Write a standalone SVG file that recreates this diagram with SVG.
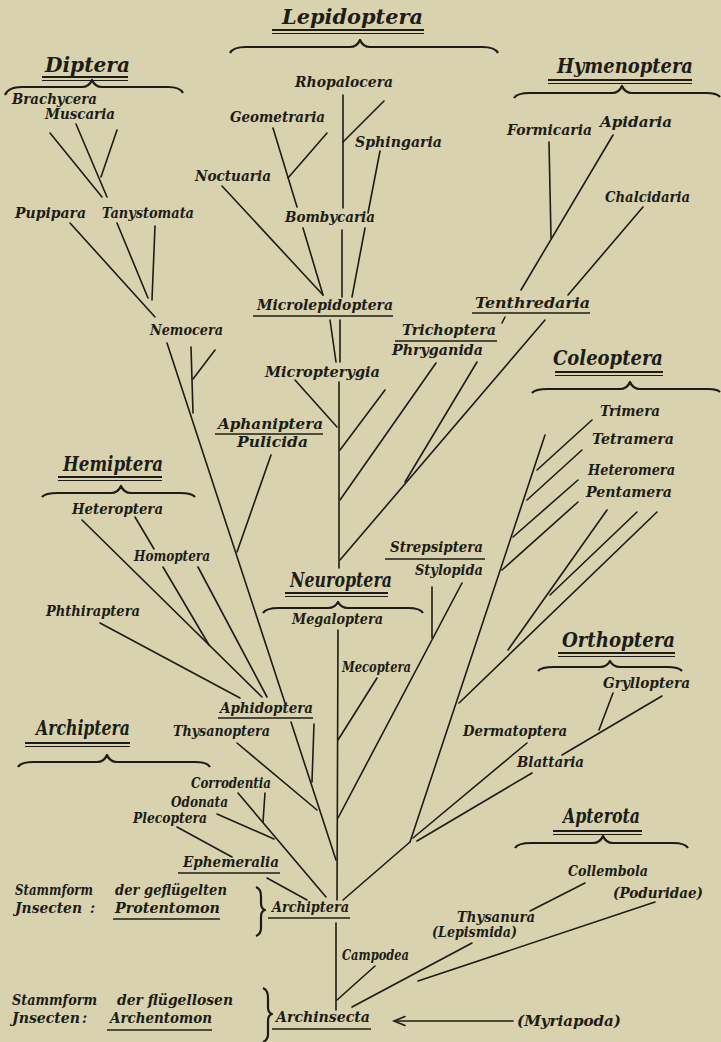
<svg xmlns="http://www.w3.org/2000/svg" width="721" height="1042" viewBox="0 0 721 1042">
<style>
.t{font-family:"DejaVu Serif","Liberation Serif",serif;font-style:italic;font-weight:bold;font-size:14px;fill:#1d1c17}
.h{font-size:21px}
.s{font-weight:bold;font-size:14px}
.ln{stroke:#1d1c17;stroke-width:1.6;fill:none;stroke-linecap:round}
.ul{stroke:#1d1c17;stroke-width:1.3;fill:none}
.du{stroke:#1d1c17;fill:none}
.br{stroke:#1d1c17;stroke-width:2.2;fill:none;stroke-linejoin:round}
</style>
<rect width="721" height="1042" fill="#d8d3ae"/>

<g id="connectors">
<!-- Diptera -->
<line class="ln" x1="50" y1="133" x2="102" y2="197"/>
<line class="ln" x1="76" y1="124" x2="107" y2="197"/>
<line class="ln" x1="117" y1="130" x2="101" y2="177"/>
<line class="ln" x1="70" y1="223" x2="155" y2="317"/>
<line class="ln" x1="117" y1="223" x2="148" y2="298"/>
<line class="ln" x1="155" y1="226" x2="152" y2="300"/>
<!-- Nemocera -->
<line class="ln" x1="167" y1="343" x2="285" y2="703"/>
<line class="ln" x1="191" y1="347" x2="193" y2="413"/>
<line class="ln" x1="193" y1="379" x2="215" y2="350"/>
<!-- Aphaniptera -->
<line class="ln" x1="271" y1="455" x2="237" y2="552"/>
<!-- Hemiptera -->
<line class="ln" x1="82" y1="520" x2="262" y2="697"/>
<line class="ln" x1="135" y1="517" x2="154" y2="549"/>
<line class="ln" x1="163" y1="567" x2="209" y2="645"/>
<line class="ln" x1="198" y1="567" x2="267" y2="697"/>
<line class="ln" x1="100" y1="623" x2="240" y2="698"/>
<!-- Lepidoptera -->
<line class="ln" x1="343" y1="95" x2="343" y2="208"/>
<line class="ln" x1="384" y1="101" x2="343" y2="142"/>
<line class="ln" x1="273" y1="128" x2="297" y2="207"/>
<line class="ln" x1="327" y1="133" x2="288" y2="178"/>
<line class="ln" x1="380" y1="151" x2="368" y2="213"/>
<line class="ln" x1="222" y1="186" x2="323" y2="295"/>
<line class="ln" x1="303" y1="228" x2="323" y2="295"/>
<line class="ln" x1="342" y1="230" x2="342" y2="297"/>
<line class="ln" x1="365" y1="228" x2="352" y2="297"/>
<line class="ln" x1="330" y1="320" x2="336" y2="362"/>
<line class="ln" x1="340" y1="320" x2="340" y2="362"/>
<!-- Neuroptera upper trunk -->
<line class="ln" x1="339" y1="382" x2="339" y2="568"/>
<line class="ln" x1="295" y1="380" x2="337" y2="427"/>
<line class="ln" x1="385" y1="390" x2="340" y2="450"/>
<line class="ln" x1="436" y1="363" x2="340" y2="500"/>
<line class="ln" x1="477" y1="362" x2="405" y2="482"/>
<line class="ln" x1="545" y1="320" x2="340" y2="560"/>
<!-- Hymenoptera -->
<line class="ln" x1="549" y1="142" x2="551" y2="238"/>
<line class="ln" x1="613" y1="135" x2="521" y2="290"/>
<line class="ln" x1="643" y1="207" x2="568" y2="295"/>
<line class="ln" x1="505" y1="317" x2="502" y2="323"/>
<!-- Coleoptera -->
<line class="ln" x1="545" y1="435" x2="410" y2="842"/>
<line class="ln" x1="592" y1="420" x2="537" y2="470"/>
<line class="ln" x1="582" y1="450" x2="527" y2="500"/>
<line class="ln" x1="578" y1="480" x2="513" y2="537"/>
<line class="ln" x1="578" y1="502" x2="502" y2="570"/>
<line class="ln" x1="607" y1="510" x2="508" y2="650"/>
<line class="ln" x1="637" y1="512" x2="550" y2="595"/>
<line class="ln" x1="657" y1="512" x2="459" y2="703"/>
<!-- Strepsiptera -->
<line class="ln" x1="432" y1="587" x2="432" y2="638"/>
<line class="ln" x1="462" y1="583" x2="338" y2="818"/>
<!-- Neuroptera lower -->
<line class="ln" x1="338" y1="630" x2="337" y2="900"/>
<line class="ln" x1="377" y1="678" x2="338" y2="740"/>
<!-- Orthoptera -->
<line class="ln" x1="613" y1="693" x2="599" y2="730"/>
<line class="ln" x1="662" y1="696" x2="562" y2="755"/>
<line class="ln" x1="527" y1="743" x2="413" y2="838"/>
<line class="ln" x1="532" y1="773" x2="417" y2="841"/>
<line class="ln" x1="410" y1="842" x2="343" y2="900"/>
<!-- Archiptera group -->
<line class="ln" x1="291" y1="722" x2="336" y2="860"/>
<line class="ln" x1="314" y1="724" x2="312" y2="782"/>
<line class="ln" x1="237" y1="743" x2="317" y2="810"/>
<line class="ln" x1="238" y1="793" x2="326" y2="897"/>
<line class="ln" x1="265" y1="793" x2="263" y2="822"/>
<line class="ln" x1="217" y1="814" x2="274" y2="839"/>
<line class="ln" x1="177" y1="827" x2="232" y2="857"/>
<line class="ln" x1="267" y1="878" x2="307" y2="900"/>
<!-- Apterota -->
<line class="ln" x1="336" y1="923" x2="336" y2="1010"/>
<line class="ln" x1="375" y1="966" x2="337" y2="1000"/>
<line class="ln" x1="472" y1="943" x2="352" y2="1007"/>
<line class="ln" x1="585" y1="883" x2="530" y2="911"/>
<line class="ln" x1="655" y1="902" x2="418" y2="981"/>
<!-- Myriapoda arrow -->
<line class="ln" x1="513" y1="1021" x2="396" y2="1021"/>
<polyline class="ln" points="405,1016.5 394,1021 405,1025.5"/>
</g>

<!-- Group titles -->
<g id="g-lepidoptera">
<text class="t h" x="282" y="24" textLength="141" lengthAdjust="spacingAndGlyphs">Lepidoptera</text>
<line class="du" x1="272" y1="30" x2="424" y2="30" stroke-width="2"/>
<line class="du" x1="272" y1="33.5" x2="424" y2="33.5" stroke-width="1"/>
<path class="br" d="M230,53 Q233,47 246,47 L350,47 Q357,47 360,40 Q363,47 370,47 L482,47 Q495,47 498,53"/>
</g>
<g id="g-diptera">
<text class="t h" x="45" y="72" textLength="85" lengthAdjust="spacingAndGlyphs">Diptera</text>
<line class="du" x1="42" y1="77" x2="128" y2="77" stroke-width="2"/>
<line class="du" x1="42" y1="80.5" x2="128" y2="80.5" stroke-width="1"/>
<path class="br" d="M5,95 Q8,87 22,87 L82,87 Q89,87 92,80 Q95,87 102,87 L168,87 Q180,87 183,93"/>
</g>
<g id="g-hymenoptera">
<text class="t h" x="557" y="73" textLength="136" lengthAdjust="spacingAndGlyphs">Hymenoptera</text>
<line class="du" x1="548" y1="80" x2="692" y2="80" stroke-width="2"/>
<line class="du" x1="548" y1="83.5" x2="692" y2="83.5" stroke-width="1"/>
<path class="br" d="M514,98 Q517,93 530,93 L612,93 Q619,93 622,86 Q625,93 632,93 L706,93 Q717,93 720,97"/>
</g>
<g id="g-coleoptera">
<text class="t h" x="553" y="365" textLength="110" lengthAdjust="spacingAndGlyphs">Coleoptera</text>
<line class="du" x1="555" y1="372" x2="663" y2="372" stroke-width="2"/>
<line class="du" x1="555" y1="375.5" x2="663" y2="375.5" stroke-width="1"/>
<path class="br" d="M532,393 Q535,389 548,389 L620,389 Q627,389 630,382 Q633,389 640,389 L708,389 Q717,389 720,392"/>
</g>
<g id="g-hemiptera">
<text class="t h" x="63" y="471" textLength="100" lengthAdjust="spacingAndGlyphs">Hemiptera</text>
<line class="du" x1="58" y1="477" x2="162" y2="477" stroke-width="2"/>
<line class="du" x1="58" y1="480.5" x2="162" y2="480.5" stroke-width="1"/>
<path class="br" d="M42,497 Q45,493 58,493 L111,493 Q118,493 121,486 Q124,493 131,493 L180,493 Q192,493 195,497"/>
</g>
<g id="g-neuroptera">
<text class="t h" x="290" y="587" textLength="102" lengthAdjust="spacingAndGlyphs">Neuroptera</text>
<line class="du" x1="285" y1="593" x2="388" y2="593" stroke-width="2"/>
<line class="du" x1="285" y1="596.5" x2="388" y2="596.5" stroke-width="1"/>
<path class="br" d="M263,613 Q266,608 279,608 L328,608 Q335,608 338,602 Q341,608 348,608 L408,608 Q420,608 423,613"/>
</g>
<g id="g-orthoptera">
<text class="t h" x="562" y="647" textLength="113" lengthAdjust="spacingAndGlyphs">Orthoptera</text>
<line class="du" x1="558" y1="653" x2="675" y2="653" stroke-width="2"/>
<line class="du" x1="558" y1="656.5" x2="675" y2="656.5" stroke-width="1"/>
<path class="br" d="M538,671 Q541,667 554,667 L600,667 Q607,667 610,661 Q613,667 620,667 L667,667 Q679,667 682,671"/>
</g>
<g id="g-archiptera">
<text class="t h" x="36" y="735" textLength="94" lengthAdjust="spacingAndGlyphs">Archiptera</text>
<line class="du" x1="25" y1="743" x2="130" y2="743" stroke-width="2"/>
<line class="du" x1="25" y1="746.5" x2="130" y2="746.5" stroke-width="1"/>
<path class="br" d="M18,767 Q21,762 34,762 L97,762 Q104,762 107,755 Q110,762 117,762 L195,762 Q207,762 210,767"/>
</g>
<g id="g-apterota">
<text class="t h" x="563" y="823" textLength="77" lengthAdjust="spacingAndGlyphs">Apterota</text>
<line class="du" x1="553" y1="831" x2="642" y2="831" stroke-width="2"/>
<line class="du" x1="553" y1="834.5" x2="642" y2="834.5" stroke-width="1"/>
<path class="br" d="M515,848 Q518,843 531,843 L593,843 Q600,843 603,836 Q606,843 613,843 L673,843 Q685,843 688,848"/>
</g>

<!-- Nodes -->
<g id="n-brachycera"><text class="t" x="12" y="104" textLength="85" lengthAdjust="spacingAndGlyphs">Brachycera</text></g>
<g id="n-muscaria"><text class="t" x="45" y="119" textLength="70" lengthAdjust="spacingAndGlyphs">Muscaria</text></g>
<g id="n-pupipara"><text class="t" x="15" y="218" textLength="71" lengthAdjust="spacingAndGlyphs">Pupipara</text></g>
<g id="n-tanystomata"><text class="t" x="102" y="218" textLength="92" lengthAdjust="spacingAndGlyphs">Tanystomata</text></g>
<g id="n-nemocera"><text class="t" x="150" y="335" textLength="73" lengthAdjust="spacingAndGlyphs">Nemocera</text></g>
<g id="n-rhopalocera"><text class="t" x="295" y="87" textLength="98" lengthAdjust="spacingAndGlyphs">Rhopalocera</text></g>
<g id="n-geometraria"><text class="t" x="230" y="122" textLength="95" lengthAdjust="spacingAndGlyphs">Geometraria</text></g>
<g id="n-sphingaria"><text class="t" x="355" y="147" textLength="87" lengthAdjust="spacingAndGlyphs">Sphingaria</text></g>
<g id="n-noctuaria"><text class="t" x="195" y="181" textLength="76" lengthAdjust="spacingAndGlyphs">Noctuaria</text></g>
<g id="n-bombycaria"><text class="t" x="285" y="222" textLength="90" lengthAdjust="spacingAndGlyphs">Bombycaria</text></g>
<g id="n-microlepidoptera"><text class="t" x="257" y="310" textLength="136" lengthAdjust="spacingAndGlyphs">Microlepidoptera</text><line class="ul" x1="253" y1="316" x2="393" y2="316"/></g>
<g id="n-formicaria"><text class="t" x="507" y="135" textLength="85" lengthAdjust="spacingAndGlyphs">Formicaria</text></g>
<g id="n-apidaria"><text class="t" x="600" y="127" textLength="72" lengthAdjust="spacingAndGlyphs">Apidaria</text></g>
<g id="n-chalcidaria"><text class="t" x="605" y="202" textLength="85" lengthAdjust="spacingAndGlyphs">Chalcidaria</text></g>
<g id="n-tenthredaria"><text class="t" x="475" y="308" textLength="115" lengthAdjust="spacingAndGlyphs">Tenthredaria</text><line class="ul" x1="472" y1="313" x2="590" y2="313"/></g>
<g id="n-trichoptera"><text class="t" x="402" y="335" textLength="94" lengthAdjust="spacingAndGlyphs">Trichoptera</text><line class="ul" x1="395" y1="341" x2="497" y2="341"/></g>
<g id="n-phryganida"><text class="t" x="392" y="355" textLength="91" lengthAdjust="spacingAndGlyphs">Phryganida</text></g>
<g id="n-micropterygia"><text class="t" x="265" y="377" textLength="115" lengthAdjust="spacingAndGlyphs">Micropterygia</text></g>
<g id="n-aphaniptera"><text class="t" x="218" y="429" textLength="105" lengthAdjust="spacingAndGlyphs">Aphaniptera</text><line class="ul" x1="215" y1="434" x2="323" y2="434"/></g>
<g id="n-pulicida"><text class="t" x="237" y="447" textLength="71" lengthAdjust="spacingAndGlyphs">Pulicida</text></g>
<g id="n-trimera"><text class="t" x="600" y="416" textLength="60" lengthAdjust="spacingAndGlyphs">Trimera</text></g>
<g id="n-tetramera"><text class="t" x="592" y="444" textLength="82" lengthAdjust="spacingAndGlyphs">Tetramera</text></g>
<g id="n-heteromera"><text class="t" x="588" y="475" textLength="87" lengthAdjust="spacingAndGlyphs">Heteromera</text></g>
<g id="n-pentamera"><text class="t" x="586" y="497" textLength="86" lengthAdjust="spacingAndGlyphs">Pentamera</text></g>
<g id="n-heteroptera"><text class="t" x="72" y="514" textLength="91" lengthAdjust="spacingAndGlyphs">Heteroptera</text></g>
<g id="n-homoptera"><text class="t" x="134" y="561" textLength="76" lengthAdjust="spacingAndGlyphs">Homoptera</text></g>
<g id="n-strepsiptera"><text class="t" x="390" y="552" textLength="93" lengthAdjust="spacingAndGlyphs">Strepsiptera</text><line class="ul" x1="385" y1="559" x2="485" y2="559"/></g>
<g id="n-stylopida"><text class="t" x="415" y="575" textLength="68" lengthAdjust="spacingAndGlyphs">Stylopida</text></g>
<g id="n-megaloptera"><text class="t" x="292" y="624" textLength="91" lengthAdjust="spacingAndGlyphs">Megaloptera</text></g>
<g id="n-phthiraptera"><text class="t" x="46" y="616" textLength="94" lengthAdjust="spacingAndGlyphs">Phthiraptera</text></g>
<g id="n-mecoptera"><text class="t" x="342" y="672" textLength="69" lengthAdjust="spacingAndGlyphs">Mecoptera</text></g>
<g id="n-grylloptera"><text class="t" x="603" y="688" textLength="87" lengthAdjust="spacingAndGlyphs">Grylloptera</text></g>
<g id="n-aphidoptera"><text class="t" x="220" y="713" textLength="93" lengthAdjust="spacingAndGlyphs">Aphidoptera</text><line class="ul" x1="218" y1="718" x2="313" y2="718"/></g>
<g id="n-thysanoptera"><text class="t" x="173" y="736" textLength="97" lengthAdjust="spacingAndGlyphs">Thysanoptera</text></g>
<g id="n-dermatoptera"><text class="t" x="463" y="736" textLength="104" lengthAdjust="spacingAndGlyphs">Dermatoptera</text></g>
<g id="n-blattaria"><text class="t" x="517" y="767" textLength="67" lengthAdjust="spacingAndGlyphs">Blattaria</text></g>
<g id="n-corrodentia"><text class="t" x="191" y="788" textLength="80" lengthAdjust="spacingAndGlyphs">Corrodentia</text></g>
<g id="n-odonata"><text class="t" x="171" y="807" textLength="57" lengthAdjust="spacingAndGlyphs">Odonata</text></g>
<g id="n-plecoptera"><text class="t" x="133" y="823" textLength="74" lengthAdjust="spacingAndGlyphs">Plecoptera</text></g>
<g id="n-ephemeralia"><text class="t" x="183" y="867" textLength="96" lengthAdjust="spacingAndGlyphs">Ephemeralia</text><line class="ul" x1="178" y1="873" x2="280" y2="873"/></g>
<g id="n-collembola"><text class="t" x="568" y="876" textLength="80" lengthAdjust="spacingAndGlyphs">Collembola</text></g>
<g id="n-poduridae"><text class="t" x="613" y="898" textLength="90" lengthAdjust="spacingAndGlyphs">(Poduridae)</text></g>
<g id="n-thysanura"><text class="t" x="457" y="922" textLength="78" lengthAdjust="spacingAndGlyphs">Thysanura</text></g>
<g id="n-lepismida"><text class="t" x="432" y="937" textLength="85" lengthAdjust="spacingAndGlyphs">(Lepismida)</text></g>
<g id="n-archiptera"><text class="t" x="272" y="912" textLength="77" lengthAdjust="spacingAndGlyphs">Archiptera</text><line class="ul" x1="268" y1="918" x2="350" y2="918"/></g>
<g id="n-campodea"><text class="t" x="342" y="960" textLength="67" lengthAdjust="spacingAndGlyphs">Campodea</text></g>
<g id="n-archinsecta"><text class="t" x="276" y="1022" textLength="94" lengthAdjust="spacingAndGlyphs">Archinsecta</text><line class="ul" x1="272" y1="1029" x2="371" y2="1029"/></g>
<g id="n-myriapoda"><text class="t" x="517" y="1026" textLength="104" lengthAdjust="spacingAndGlyphs">(Myriapoda)</text></g>

<g id="n-protentomon">
<text class="t s" x="15" y="895" textLength="78" lengthAdjust="spacingAndGlyphs">Stammform</text>
<text class="t s" x="115" y="895" textLength="112" lengthAdjust="spacingAndGlyphs">der geflügelten</text>
<text class="t s" x="15" y="913" textLength="67" lengthAdjust="spacingAndGlyphs">Jnsecten</text>
<text class="t s" x="90" y="913">:</text>
<text class="t s" x="115" y="913" textLength="105" lengthAdjust="spacingAndGlyphs">Protentomon</text>
<line class="ul" x1="113" y1="919" x2="220" y2="919"/>
<path class="br" stroke-width="1.6" d="M256,887 Q261,889 261,896 L261,903 Q261,909 265,910 Q261,911 261,917 L261,928 Q261,934 256,936"/>
</g>
<g id="n-archentomon">
<text class="t s" x="12" y="1005" textLength="85" lengthAdjust="spacingAndGlyphs">Stammform</text>
<text class="t s" x="117" y="1005" textLength="116" lengthAdjust="spacingAndGlyphs">der flügellosen</text>
<text class="t s" x="12" y="1023" textLength="68" lengthAdjust="spacingAndGlyphs">Jnsecten</text>
<text class="t s" x="82" y="1023">:</text>
<text class="t s" x="110" y="1023" textLength="102" lengthAdjust="spacingAndGlyphs">Archentomon</text>
<line class="ul" x1="107" y1="1030" x2="212" y2="1030"/>
<path class="br" stroke-width="1.6" d="M263,988 Q268,990 268,998 L268,1007 Q268,1013 272,1014 Q268,1015 268,1021 L268,1034 Q268,1040 263,1042"/>
</g>
</svg>
